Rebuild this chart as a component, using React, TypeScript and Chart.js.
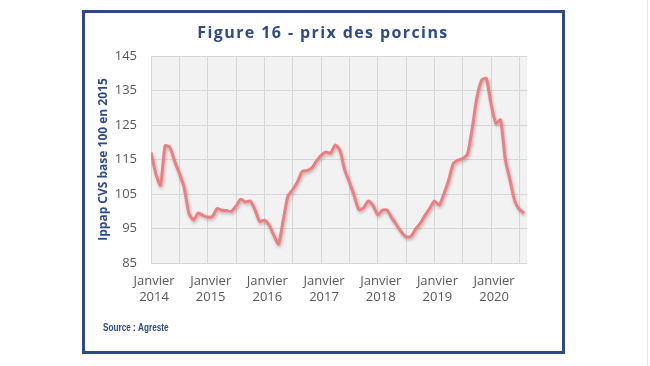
import React, { useEffect, useRef } from "react";
import { Chart, registerables } from "chart.js";

Chart.register(...registerables);

// Monthly index, January 2014 (index 0) to August 2020
const startYear = 2014;
const monthLabelWord = "Janvier";
const prixPorcins: number[] = [
  // 2014
  117, 111, 107.5, 119, 118.5, 114.5, 111, 107, 99.5, 97.5, 99.5, 98.8,
  // 2015
  98.3, 98.5, 100.8, 100.3, 100.2, 100, 101.5, 103.5, 102.7, 103, 100.5, 97,
  // 2016
  97.4, 96, 93, 90.5, 97.5, 104.5, 106.3, 108.5, 111.5, 111.8, 112.5, 114.5,
  // 2017
  116.2, 117.2, 116.8, 119.2, 117.7, 112, 108.5, 104.5, 100.5, 101, 103, 101.7,
  // 2018
  99, 100.3, 100.3, 98, 96, 94, 92.6, 92.7, 94.8, 96.5, 98.8, 100.8,
  // 2019
  103, 101.8, 105, 109, 113.8, 114.8, 115.3, 116.5, 124, 133, 138, 138.5,
  // 2020
  131, 125.5, 126.5, 115, 109, 103, 100.5, 99.5,
];
const yTicks: number[] = [85, 95, 105, 115, 125, 135, 145];
const gridMonths: number[] = [0, 6, 12, 18, 24, 30, 36, 42, 48, 54, 60, 66, 72, 78];

const titleText = "Figure 16 - prix des porcins";
const yTitleText = "Ippap CVS base 100 en 2015";
const sourceText = "Source : Agreste";

const NAVY = "#2f4a86";

export default function App() {
  const ref = useRef<HTMLCanvasElement | null>(null);

  useEffect(() => {
    if (!ref.current) return;
    const points = prixPorcins.map((v, i) => ({ x: i, y: v }));

    const bgPlugin = {
      id: "plotBg",
      beforeDraw(chart: any) {
        const { ctx, chartArea } = chart;
        ctx.save();
        ctx.fillStyle = "#f2f2f2";
        ctx.fillRect(chartArea.left, chartArea.top, chartArea.right - chartArea.left, chartArea.bottom - chartArea.top);
        ctx.restore();
      },
    };

    const shadowPlugin = {
      id: "lineShadow",
      beforeDatasetDraw(chart: any) {
        const ctx = chart.ctx;
        ctx.save();
        ctx.shadowColor = "rgba(120,60,60,0.35)";
        ctx.shadowBlur = 3;
        ctx.shadowOffsetX = 1;
        ctx.shadowOffsetY = 2;
      },
      afterDatasetDraw(chart: any) {
        chart.ctx.restore();
      },
    };

    const textPlugin = {
      id: "texts",
      afterDraw(chart: any) {
        const ctx = chart.ctx;
        ctx.save();
        ctx.fillStyle = NAVY;
        ctx.font = "bold 16px 'Open Sans'";
        (ctx as any).letterSpacing = "1.4px";
        ctx.textAlign = "center";
        ctx.textBaseline = "middle";
        ctx.fillText(titleText, 323, 33);
        (ctx as any).letterSpacing = "0px";
        ctx.translate(103, 328);
        ctx.scale(0.82, 1);
        ctx.font = "bold 10px 'Liberation Sans Narrow', 'Liberation Sans'";
        ctx.textAlign = "left";
        ctx.fillText(sourceText, 0, 0);
        ctx.restore();
      },
    };

    const chart = new Chart(ref.current, {
      type: "line",
      data: {
        datasets: [
          {
            data: points,
            borderColor: "#ea8083",
            borderWidth: 3,
            pointRadius: 0,
            tension: 0.2,
            fill: false,
          },
        ],
      },
      options: {
        animation: false,
        responsive: true,
        maintainAspectRatio: false,
        layout: { padding: { left: 96, right: 123, top: 56, bottom: 63 } },
        plugins: { legend: { display: false }, tooltip: { enabled: false }, title: { display: false } },
        scales: {
          x: {
            type: "linear",
            min: 0,
            max: 79.6,
            afterBuildTicks(scale: any) {
              scale.ticks = gridMonths.map((v) => ({ value: v }));
            },
            afterFit(scale: any) {
              scale.height = 40;
            },
            grid: { color: "#d6d6d6", lineWidth: 1, drawTicks: false },
            border: { display: false },
            ticks: {
              autoSkip: false,
              maxRotation: 0,
              padding: 10,
              labelOffset: 3,
              color: "#595959",
              font: { family: "'Open Sans'", size: 13, lineHeight: 1.25 },
              callback(value: any) {
                const v = Number(value);
                if (v % 12 === 0) return [monthLabelWord, String(startYear + v / 12)];
                return "";
              },
            },
          },
          y: {
            min: 85,
            max: 145,
            afterBuildTicks(scale: any) {
              scale.ticks = yTicks.map((v) => ({ value: v }));
            },
            afterFit(scale: any) {
              scale.width = 55;
            },
            grid: { color: "#d6d6d6", lineWidth: 1, drawTicks: false },
            border: { display: false },
            title: {
              display: true,
              text: yTitleText,
              color: NAVY,
              padding: 0,
              font: { family: "'Open Sans'", size: 12, weight: "bold" },
            },
            ticks: {
              padding: 14,
              color: "#595959",
              font: { family: "'Open Sans'", size: 13 },
            },
          },
        },
      },
      plugins: [bgPlugin, shadowPlugin, textPlugin],
    });
    return () => chart.destroy();
  }, []);

  return (
    <div style={{ position: "fixed", left: 0, top: 0, width: 650, height: 366, background: "#ffffff" }}>
      <div
        style={{
          position: "absolute",
          left: 82,
          top: 10,
          width: 483,
          height: 344,
          boxSizing: "border-box",
          border: `3px solid ${NAVY}`,
        }}
      />
      <div style={{ position: "absolute", left: 647, top: 0, width: 1, height: 366, background: "#e6e6e6" }} />
      <div style={{ position: "absolute", left: 0, top: 0, width: 650, height: 366 }}>
        <canvas ref={ref} />
      </div>
    </div>
  );
}
